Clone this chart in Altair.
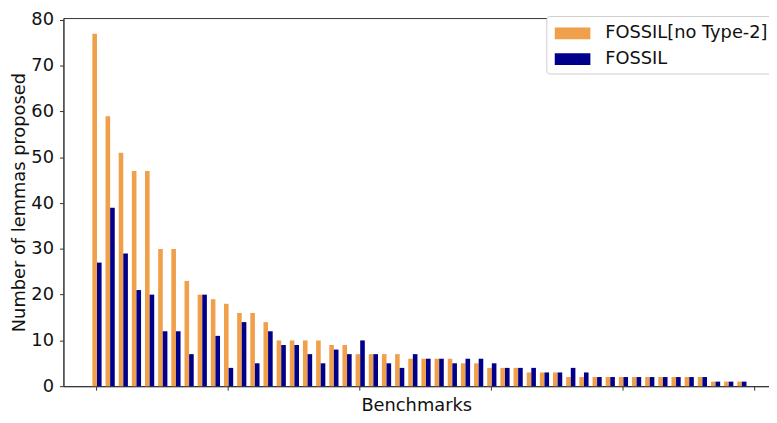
import altair as alt
import pandas as pd

series_names = ["FOSSIL[no Type-2]", "FOSSIL"]
series_colors = ["#F0A04B", "#00008A"]

no_type2 = [77, 59, 51, 47, 47, 30, 30, 23, 20, 19,
            18, 16, 16, 14, 10, 10, 10, 10, 9, 9,
            7, 7, 7, 7, 6, 6, 6, 6, 5, 5,
            4, 4, 4, 3, 3, 3, 2, 2, 2, 2,
            2, 2, 2, 2, 2, 2, 2, 1, 1, 1]
fossil = [27, 39, 29, 21, 20, 12, 12, 7, 20, 11,
          4, 14, 5, 12, 9, 9, 7, 5, 8, 7,
          10, 7, 5, 4, 7, 6, 6, 5, 6, 6,
          5, 4, 4, 4, 3, 3, 4, 3, 2, 2,
          2, 2, 2, 2, 2, 2, 2, 1, 1, 1]

y_ticks = [0, 10, 20, 30, 40, 50, 60, 70, 80]
x_ticks = [0, 10, 20, 30, 40, 50]

rows = []
for i, (a, b) in enumerate(zip(no_type2, fossil)):
    rows.append({"bench": i, "series": series_names[0], "k": 0, "lemmas": a})
    rows.append({"bench": i, "series": series_names[1], "k": 1, "lemmas": b})
df = pd.DataFrame(rows)

bar_w = 0.35
rect_path = "M-1.5,-0.5H1.5V0.5H-1.5Z"
fs = 18

chart = (
    alt.Chart(df)
    .transform_calculate(
        x0=f"datum.bench - 0.28 + datum.k * {bar_w}",
        x1=f"datum.bench + 0.07 + datum.k * {bar_w}",
    )
    .mark_bar(strokeWidth=0)
    .encode(
        x=alt.X(
            "x0:Q",
            scale=alt.Scale(domain=[-2.48, 51.13], nice=False, zero=False),
            axis=alt.Axis(
                values=x_ticks, labels=False, title="Benchmarks", grid=False,
                tickSize=4, titlePadding=6, titleFontSize=fs,
                titleFontWeight="normal", titleColor="#111",
                domainColor="#333", tickColor="#333",
            ),
        ),
        x2="x1:Q",
        y=alt.Y(
            "lemmas:Q",
            scale=alt.Scale(domain=[0, 80.43], nice=False),
            axis=alt.Axis(
                values=y_ticks, title="Number of lemmas proposed", grid=False,
                tickSize=4, labelPadding=6, labelFontSize=fs, labelColor="#111",
                titlePadding=2, titleFontSize=fs, titleFontWeight="normal",
                titleColor="#111", domainColor="#333", tickColor="#333",
            ),
        ),
        y2=alt.datum(0),
        color=alt.Color(
            "series:N",
            scale=alt.Scale(domain=series_names, range=series_colors),
            legend=alt.Legend(
                title=None, orient="none", legendX=488, legendY=-2,
                symbolType=rect_path, symbolSize=576, symbolStrokeWidth=0,
                symbolOpacity=1, symbolOffset=9,
                labelFontSize=fs, labelColor="#111", labelOffset=21,
                rowPadding=5, padding=5.5, fillColor="white",
                strokeColor="#cccccc", cornerRadius=3, labelLimit=300,
            ),
        ),
        order=alt.Order("k:Q"),
    )
    .properties(
        width=713, height=372,
        autosize=alt.AutoSizeParams(type="none"),
        padding={"left": 56, "top": 8, "right": 0, "bottom": 32},
    )
    .configure(font="DejaVu Sans")
    .configure_view(stroke="#333", strokeWidth=1)
)

chart.save("out.html", embed_options={"renderer": "svg", "actions": False})
